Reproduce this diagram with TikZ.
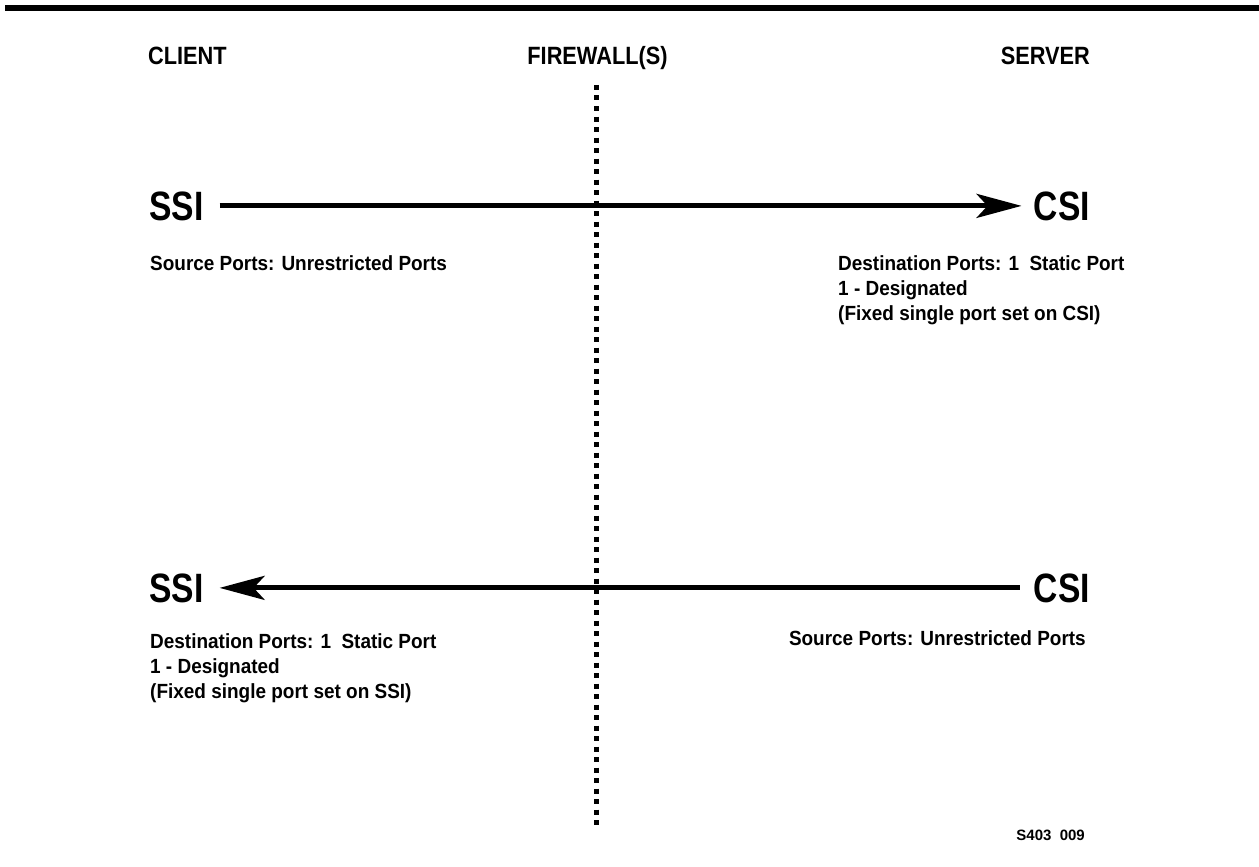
\documentclass[tikz,border=0pt]{standalone}
\usepackage{fontspec}
\setmainfont{Liberation Sans}
\newfontfamily\fhdr{Liberation Sans}[FakeStretch=0.87]
\newfontfamily\fbig{Liberation Sans}[FakeStretch=0.82]
\newfontfamily\fport{Liberation Sans}[FakeStretch=0.925]
\usetikzlibrary{arrows.meta}
\begin{document}
\begin{tikzpicture}[x=1pt,y=-1pt,
  hdr/.style={inner sep=0pt,font=\fhdr\bfseries\fontsize{25}{30}\selectfont},
  big/.style={inner sep=0pt,font=\fbig\bfseries\fontsize{41}{48}\selectfont},
  ports/.style={inner sep=0pt,font=\fport\bfseries\fontsize{20.5}{25}\selectfont,align=left},
  tag/.style={inner sep=0pt,font=\bfseries\fontsize{15}{17}\selectfont},
  flow/.style={line width=5pt,-{Stealth[length=45pt,width=24pt,inset=11pt]}},
  wall/.style={line width=5pt,dash pattern=on 5pt off 5.5pt}]
\useasboundingbox (0,0) rectangle (1259,867);
\fill (5,5) rectangle (1259,11);
\node[hdr,anchor=base west] (client) at (148,65) {CLIENT};
\node[hdr,anchor=base] (fw) at (597.5,65) {FIREWALL(S)};
\node[hdr,anchor=base east] (server) at (1090,65) {SERVER};
\coordinate (wtop) at (596,85);
\coordinate (wbot) at (596,826);
\draw[wall] (wtop) -- (wbot);
\node[big,anchor=base west] (ssiA) at (149,220) {SSI};
\node[big,anchor=base east] (csiA) at (1090,220) {CSI};
\draw[flow] ([xshift=16pt]ssiA.east) -- ([xshift=-12pt]csiA.west);
\node[ports,anchor=base west] (srcA) at (150,270) {Source Ports: Unrestricted Ports};
\node[ports,anchor=north west] (dstA) at (838,255) {Destination Ports: 1\ \ Static Port\\1 - Designated\\(Fixed single port set on CSI)};
\node[big,anchor=base west] (ssiB) at (149,602) {SSI};
\node[big,anchor=base east] (csiB) at (1090,602) {CSI};
\draw[flow] ([xshift=-14pt]csiB.west) -- ([xshift=16pt]ssiB.east);
\node[ports,anchor=north west] (dstB) at (150,633) {Destination Ports: 1\ \ Static Port\\1 - Designated\\(Fixed single port set on SSI)};
\node[ports,anchor=base east] (srcB) at (1086,645) {Source Ports: Unrestricted Ports};
\node[tag,anchor=base east] (code) at (1085,840) {S403\ \ 009};
\end{tikzpicture}
\end{document}
